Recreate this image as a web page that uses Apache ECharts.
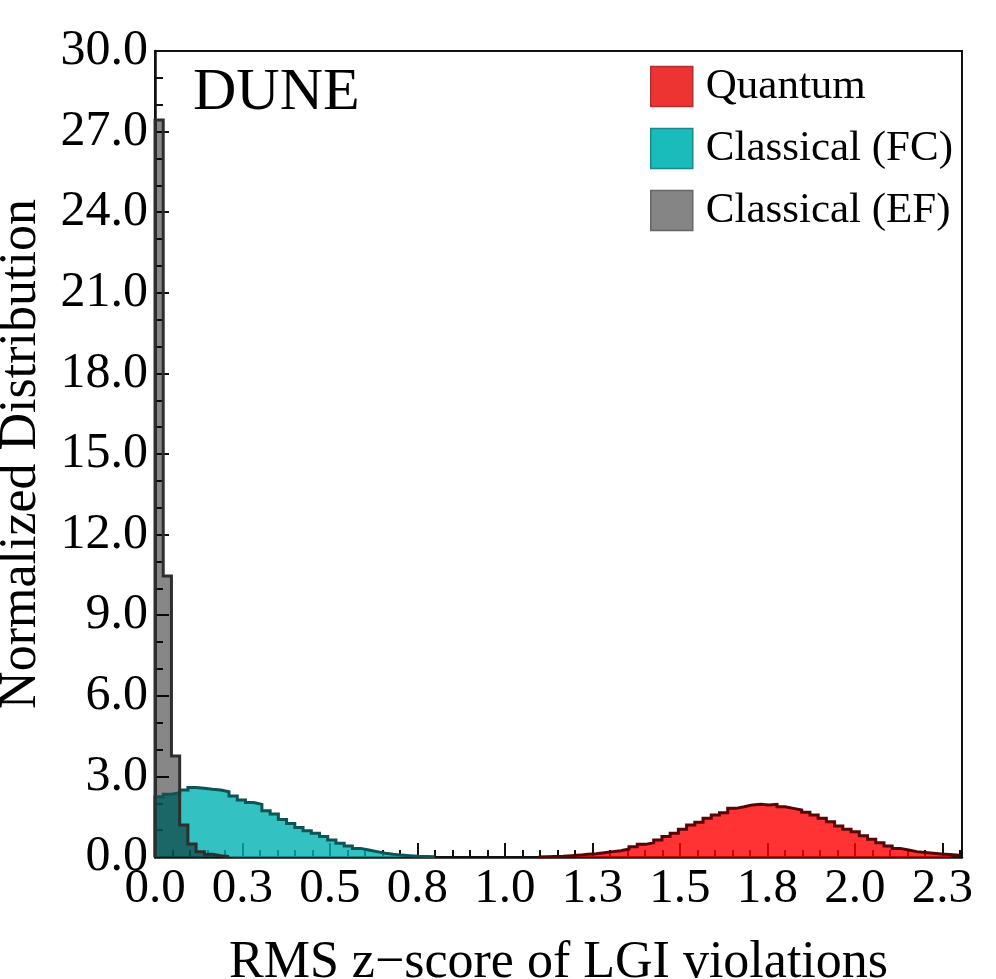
<!DOCTYPE html>
<html>
<head>
<meta charset="utf-8">
<script src="https://cdn.jsdelivr.net/npm/echarts@6/dist/echarts.min.js"></script>
<style>
  html, body { margin: 0; padding: 0; background: #fff; }
  #chart { width: 996px; height: 979px; }
</style>
</head>
<body>
<div id="chart"></div>
<script>
// histogram bin width (same for all three distributions)
const binWidth = 0.0235;

// Quantum (red), bins start at x = quantumStart
const quantumStart = 1.096;
const quantumValues = [
  0.01, 0.02, 0.03, 0.05, 0.07, 0.10, 0.12, 0.16, 0.20, 0.23, 0.30, 0.38, 0.47,
  0.53, 0.63, 0.76, 0.88, 1.03, 1.19, 1.29, 1.44, 1.56, 1.65, 1.81, 1.87, 1.94,
  1.96, 1.94, 1.96, 1.87, 1.81, 1.75, 1.67, 1.56, 1.44, 1.31, 1.15, 1.03, 0.94,
  0.79, 0.66, 0.53, 0.41, 0.32, 0.26, 0.20, 0.17, 0.14, 0.11, 0.09, 0.07
];

// Classical (FC), teal
const fcStart = 0;
const fcValues = [
  2.24, 2.34, 2.39, 2.49, 2.59, 2.56, 2.52, 2.49, 2.43, 2.27, 2.12, 2.03, 1.96,
  1.72, 1.60, 1.40, 1.25, 1.10, 0.98, 0.88, 0.76, 0.63, 0.51, 0.41, 0.32, 0.26,
  0.20, 0.14, 0.10, 0.07, 0.05, 0.03, 0.02, 0.01
];

// Classical (EF), gray
const efStart = 0;
const efValues = [27.43, 10.46, 3.76, 1.19, 0.48, 0.20, 0.10, 0.05, 0.02];

const seriesNames = ['Quantum', 'Classical (FC)', 'Classical (EF)'];
const xTickLabels = ['0.0', '0.3', '0.5', '0.8', '1.0', '1.3', '1.5', '1.8', '2.0', '2.3'];
const yTickLabels = ['0.0', '3.0', '6.0', '9.0', '12.0', '15.0', '18.0', '21.0', '24.0', '27.0', '30.0'];

const FONT = 'Liberation Serif';

// turn bin values into step points: [x, y] at left edge of each bin
function histPoints(start, values) {
  const pts = [[start, 0]];
  values.forEach((v, i) => pts.push([start + i * binWidth, v]));
  pts.push([start + values.length * binWidth, 0]);
  return pts;
}

function histSeries(name, start, values, fill, edge) {
  return {
    name: name,
    type: 'line',
    step: 'end',
    data: histPoints(start, values),
    showSymbol: false,
    symbol: 'none',
    itemStyle: { color: fill },
    lineStyle: { color: edge, width: 3, join: 'miter' },
    areaStyle: { color: fill, opacity: 1 },
    emphasis: { disabled: true },
    silent: true,
  };
}

const chart = echarts.init(document.getElementById('chart'), null, { renderer: 'canvas' });

chart.setOption({
  animation: false,
  backgroundColor: '#fff',
  grid: {
    left: 155,
    right: 34,
    top: 51,
    bottom: 122,
    outerBoundsMode: 'none',
    containLabel: false,
    show: true,
    borderColor: '#111',
    borderWidth: 2,
    backgroundColor: 'transparent',
  },
  legend: {
    orient: 'vertical',
    left: 645,
    top: 60,
    icon: 'rect',
    itemWidth: 42,
    itemHeight: 40,
    itemGap: 19,
    selectedMode: false,
    textStyle: { fontFamily: FONT, fontSize: 43, color: '#000', padding: [0, 0, 0, 8] },
    data: [
      { name: seriesNames[0], itemStyle: { color: '#ee3333', borderColor: '#b03030', borderWidth: 1.5 } },
      { name: seriesNames[1], itemStyle: { color: '#1abbbb', borderColor: '#168a8a', borderWidth: 1.5 } },
      { name: seriesNames[2], itemStyle: { color: '#858585', borderColor: '#666', borderWidth: 1.5 } },
    ],
  },
  graphic: [
    {
      type: 'text',
      left: 193,
      top: 63,
      style: { text: 'DUNE', font: '60px "Liberation Serif"', fill: '#000' },
    },
  ],
  xAxis: {
    type: 'value',
    min: 0,
    max: 2.306,
    interval: 0.25,
    name: 'RMS z\u2212score of LGI violations',
    nameLocation: 'middle',
    nameGap: 80,
    nameTextStyle: { fontFamily: FONT, fontSize: 52, color: '#000' },
    axisLine: { onZero: false, lineStyle: { color: '#111', width: 2.5 } },
    axisTick: { inside: true, length: 14, lineStyle: { color: '#111', width: 2 } },
    minorTick: { show: true, splitNumber: 5, length: 7, lineStyle: { color: '#111', width: 2 } },
    splitLine: { show: false },
    minorSplitLine: { show: false },
    axisLabel: {
      margin: 8,
      showMaxLabel: false,
      fontFamily: FONT,
      fontSize: 49,
      color: '#000',
      formatter: (v) => {
        const k = v / 0.25;
        if (Math.abs(k - Math.round(k)) > 1e-6) return '';
        return xTickLabels[Math.round(k)] || '';
      },
    },
  },
  yAxis: {
    type: 'value',
    min: 0,
    max: 30,
    interval: 3,
    name: 'Normalized Distribution',
    nameLocation: 'middle',
    nameGap: 108,
    nameRotate: 90,
    nameTextStyle: { fontFamily: FONT, fontSize: 52, color: '#000' },
    axisLine: { show: true, lineStyle: { color: '#111', width: 2.5 } },
    axisTick: { show: true, inside: true, length: 14, lineStyle: { color: '#111', width: 2 } },
    minorTick: { show: true, splitNumber: 3, length: 8, lineStyle: { color: '#111', width: 2 } },
    splitLine: { show: false },
    minorSplitLine: { show: false },
    axisLabel: {
      margin: 7,
      fontFamily: FONT,
      fontSize: 50,
      color: '#000',
      formatter: (v) => yTickLabels[Math.round(v / 3)] || '',
    },
  },
  series: [
    histSeries(seriesNames[0], quantumStart, quantumValues, 'rgba(255,0,0,0.8)', '#5a0505'),
    histSeries(seriesNames[1], fcStart, fcValues, 'rgba(0,178,178,0.8)', '#0a5555'),
    histSeries(seriesNames[2], efStart, efValues, 'rgba(0,0,0,0.47)', '#2e2e2e'),
  ],
});
</script>
</body>
</html>
